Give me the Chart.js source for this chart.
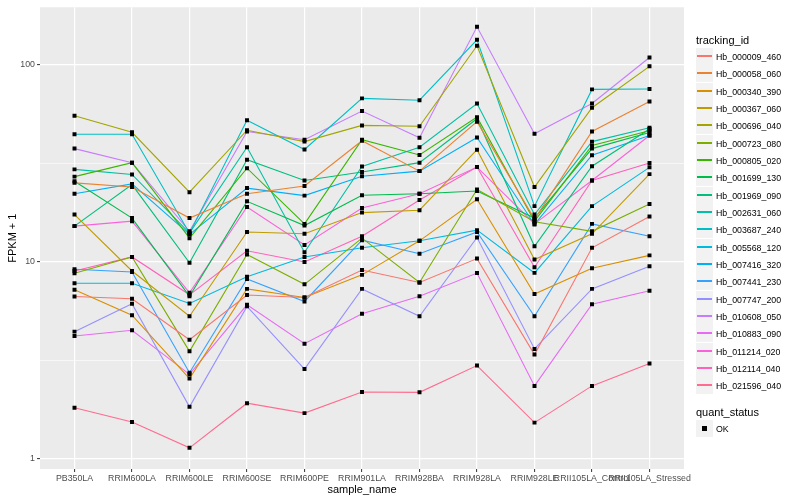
<!DOCTYPE html>
<html lang="en">
<head>
<meta charset="UTF-8" />
<title>FPKM + 1 by sample</title>
<script src="https://cdn.jsdelivr.net/npm/chart.js"></script>
<style>
  body { margin: 0; background: #fff; font-family: "Liberation Sans", Arial, sans-serif; }
  #wrap { position: relative; width: 800px; height: 500px; }
  canvas { position: absolute; left: 0; top: 0; }
  .legend { position: absolute; left: 696px; color: #000; }
  .legend .title { position: absolute; top: 0; font-size: 11px; height: 16px; line-height: 16px; white-space: nowrap; }
  .key { position: absolute; left: 0; display: flex; align-items: center; height: 17px; font-size: 8.8px; white-space: nowrap; }
  .key .box { width: 17px; height: 17px; background: #F2F2F2; position: relative; margin-right: 3px; flex: none; }
  .key .box i { position: absolute; left: 1px; right: 1px; top: 7px; height: 2px; }
  .key .box b { position: absolute; left: 6px; top: 6px; width: 5px; height: 5px; background: #000; }
</style>
</head>
<body>
<div id="wrap">
  <canvas id="fpkm" width="800" height="500"></canvas>
  <div class="legend" id="trackLegend" style="top:32px"></div>
  <div class="legend" id="statusLegend" style="top:404px"></div>
</div>

<script>
  const samples = ['PB350LA', 'RRIM600LA', 'RRIM600LE', 'RRIM600SE', 'RRIM600PE', 'RRIM901LA',
    'RRIM928BA', 'RRIM928LA', 'RRIM928LE', 'RRII105LA_Control', 'RRII105LA_Stressed'];

  const trackingIds = ['Hb_000009_460', 'Hb_000058_060', 'Hb_000340_390', 'Hb_000367_060',
    'Hb_000696_040', 'Hb_000723_080', 'Hb_000805_020', 'Hb_001699_130', 'Hb_001969_090',
    'Hb_002631_060', 'Hb_003687_240', 'Hb_005568_120', 'Hb_007416_320', 'Hb_007441_230',
    'Hb_007747_200', 'Hb_010608_050', 'Hb_010883_090', 'Hb_011214_020', 'Hb_012114_040',
    'Hb_021596_040'];

  const colours = ['#F8766D', '#EA8331', '#D89000', '#C09B00', '#A3A500', '#7CAE00', '#39B600',
    '#00BB4E', '#00BF7D', '#00C1A3', '#00BFC4', '#00BAE0', '#00B0F6', '#35A2FF', '#9590FF',
    '#C77CFF', '#E76BF3', '#FA62DB', '#FF62BC', '#FF6C90'];

  // FPKM + 1 per sample, same order as samples
  const hb_000009_460 = [6.68, 6.5, 4.03, 6.8, 6.6, 9.1, 7.87, 10.4, 3.39, 11.8, 17.0];
  const hb_000058_060 = [25.2, 24.0, 16.7, 22.2, 24.3, 41.2, 28.9, 51.5, 16.5, 45.9, 65.2];
  const hb_000340_390 = [7.22, 5.37, 2.56, 7.3, 6.6, 8.6, 12.8, 20.8, 6.87, 9.3, 10.8];
  const hb_000367_060 = [17.4, 9.0, 5.3, 14.2, 13.9, 17.8, 18.3, 37.1, 10.3, 13.9, 27.9];
  const hb_000696_040 = [55.2, 45.5, 22.6, 46.6, 40.8, 49.3, 48.8, 125, 24.0, 60.6, 98.3];
  const hb_000723_080 = [8.77, 10.6, 3.52, 10.9, 7.7, 13.2, 7.87, 23.3, 16.0, 14.3, 19.7];
  const hb_000805_020 = [27.1, 31.9, 13.2, 29.9, 15.6, 41.7, 34.9, 54.3, 16.1, 39.0, 46.3];
  const hb_001699_130 = [25.7, 16.7, 6.7, 20.3, 15.3, 21.8, 22.2, 22.9, 16.7, 37.6, 45.4];
  const hb_001969_090 = [15.2, 24.7, 9.9, 33.0, 25.9, 28.6, 31.9, 53.3, 12.0, 30.6, 47.3];
  const hb_002631_060 = [29.5, 27.8, 14.0, 38.2, 11.2, 30.5, 38.2, 63.7, 17.4, 40.8, 48.0];
  const hb_003687_240 = [44.5, 44.5, 14.0, 52.4, 37.2, 67.6, 66.2, 134, 19.2, 75.1, 75.5];
  const hb_005568_120 = [7.8, 7.8, 6.16, 8.42, 10.6, 11.8, 12.8, 14.5, 8.8, 19.2, 30.2];
  const hb_007416_320 = [22.2, 24.9, 13.8, 23.7, 21.7, 27.2, 28.9, 42.8, 15.5, 34.8, 43.8];
  const hb_007441_230 = [9.19, 8.9, 2.74, 8.19, 6.3, 12.9, 11.0, 14.2, 5.3, 15.6, 13.5];
  const hb_007747_200 = [4.43, 6.13, 1.84, 5.95, 2.86, 7.3, 5.3, 13.3, 3.62, 7.3, 9.5];
  const hb_010608_050 = [37.6, 31.9, 14.3, 45.9, 41.7, 58.3, 42.7, 156, 44.7, 63.7, 109];
  const hb_010883_090 = [4.21, 4.5, 2.69, 6.06, 3.85, 5.46, 6.7, 8.78, 2.35, 6.1, 7.15];
  const hb_011214_020 = [15.2, 16.1, 6.97, 19.0, 12.2, 18.8, 22.2, 30.3, 15.6, 25.9, 43.8];
  const hb_012114_040 = [9.0, 10.6, 6.81, 11.4, 10.0, 13.5, 20.6, 30.3, 9.4, 25.9, 31.8];
  const hb_021596_040 = [1.82, 1.54, 1.14, 1.92, 1.71, 2.19, 2.18, 2.98, 1.53, 2.35, 3.05];

  const series = [hb_000009_460, hb_000058_060, hb_000340_390, hb_000367_060, hb_000696_040,
    hb_000723_080, hb_000805_020, hb_001699_130, hb_001969_090, hb_002631_060, hb_003687_240,
    hb_005568_120, hb_007416_320, hb_007441_230, hb_007747_200, hb_010608_050, hb_010883_090,
    hb_011214_020, hb_012114_040, hb_021596_040];

  const yBreaks = [1, 3.1623, 10, 31.623, 100];
  const yBreakLabels = ['1', '', '10', '', '100'];
  const statusLevels = ['OK'];

  const FONT = '"Liberation Sans", Arial, sans-serif';
  const isMinor = ctx => yBreakLabels[ctx.index] === '';

  const panelBg = {
    id: 'panelBg',
    beforeDraw(chart) {
      const { ctx, chartArea: a } = chart;
      ctx.save();
      ctx.fillStyle = '#EBEBEB';
      ctx.fillRect(a.left, a.top, a.right - a.left, a.bottom - a.top);
      ctx.restore();
    }
  };

  const datasets = trackingIds.map((id, k) => ({
    type: 'line',
    label: id,
    data: series[k].map((v, i) => ({ x: i, y: v })),
    borderColor: colours[k],
    backgroundColor: colours[k],
    borderWidth: 1.1,
    pointRadius: 0,
    tension: 0,
    order: 1
  }));

  datasets.push({
    type: 'scatter',
    label: 'OK',
    data: series.flatMap(s => s.map((v, i) => ({ x: i, y: v }))),
    pointStyle: 'rect',
    pointRadius: 2.8,
    backgroundColor: '#000',
    borderColor: '#000',
    borderWidth: 0,
    order: 0
  });

  new Chart(document.getElementById('fpkm'), {
    type: 'line',
    data: { datasets },
    plugins: [panelBg],
    options: {
      responsive: false,
      animation: false,
      layout: { padding: { top: 5, right: 116, left: 0, bottom: 0 } },
      plugins: { legend: { display: false }, tooltip: { enabled: false } },
      scales: {
        x: {
          type: 'linear',
          min: -0.6,
          max: 10.6,
          afterBuildTicks: s => { s.ticks = samples.map((_, i) => ({ value: i })); },
          afterFit: s => { s.height = 31; },
          ticks: {
            callback: v => samples[v],
            autoSkip: false,
            maxRotation: 0,
            minRotation: 0,
            color: '#4D4D4D',
            font: { size: 8.8, family: FONT },
            padding: 1
          },
          grid: { color: '#fff', lineWidth: 1.2, tickColor: '#333', tickLength: 3, tickWidth: 1 },
          border: { display: false },
          title: {
            display: true, text: 'sample_name', color: '#000',
            font: { size: 11, family: FONT }, padding: { top: 0, bottom: 3 }
          }
        },
        y: {
          type: 'logarithmic',
          min: 0.89,
          max: 196,
          afterBuildTicks: s => { s.ticks = yBreaks.map(v => ({ value: v })); },
          afterFit: s => { s.width = 40; },
          ticks: {
            callback: (v, i) => yBreakLabels[i],
            color: '#4D4D4D',
            font: { size: 8.8, family: FONT },
            padding: 2
          },
          grid: {
            color: '#fff',
            lineWidth: ctx => isMinor(ctx) ? 0.6 : 1.2,
            tickColor: ctx => isMinor(ctx) ? 'rgba(0,0,0,0)' : '#333',
            tickLength: 3,
            tickWidth: 1
          },
          border: { display: false },
          title: {
            display: true, text: 'FPKM + 1', color: '#000',
            font: { size: 11, family: FONT }, padding: { top: 6, bottom: 0 }
          }
        }
      }
    }
  });

  // ggplot-style legends, keys put on whole pixels so the lines stay even
  const KEY_STEP = 17.33;
  const track = document.getElementById('trackLegend');
  track.innerHTML = '<div class="title">tracking_id</div>' + trackingIds.map((id, k) =>
    `<div class="key" style="top:${Math.round(16 + k * KEY_STEP)}px"><span class="box"><i style="background:${colours[k]}"></i></span>${id}</div>`
  ).join('');

  const status = document.getElementById('statusLegend');
  status.innerHTML = '<div class="title">quant_status</div>' + statusLevels.map((s, k) =>
    `<div class="key" style="top:${Math.round(16 + k * KEY_STEP)}px"><span class="box"><b></b></span>${s}</div>`
  ).join('');
</script>
</body>
</html>
